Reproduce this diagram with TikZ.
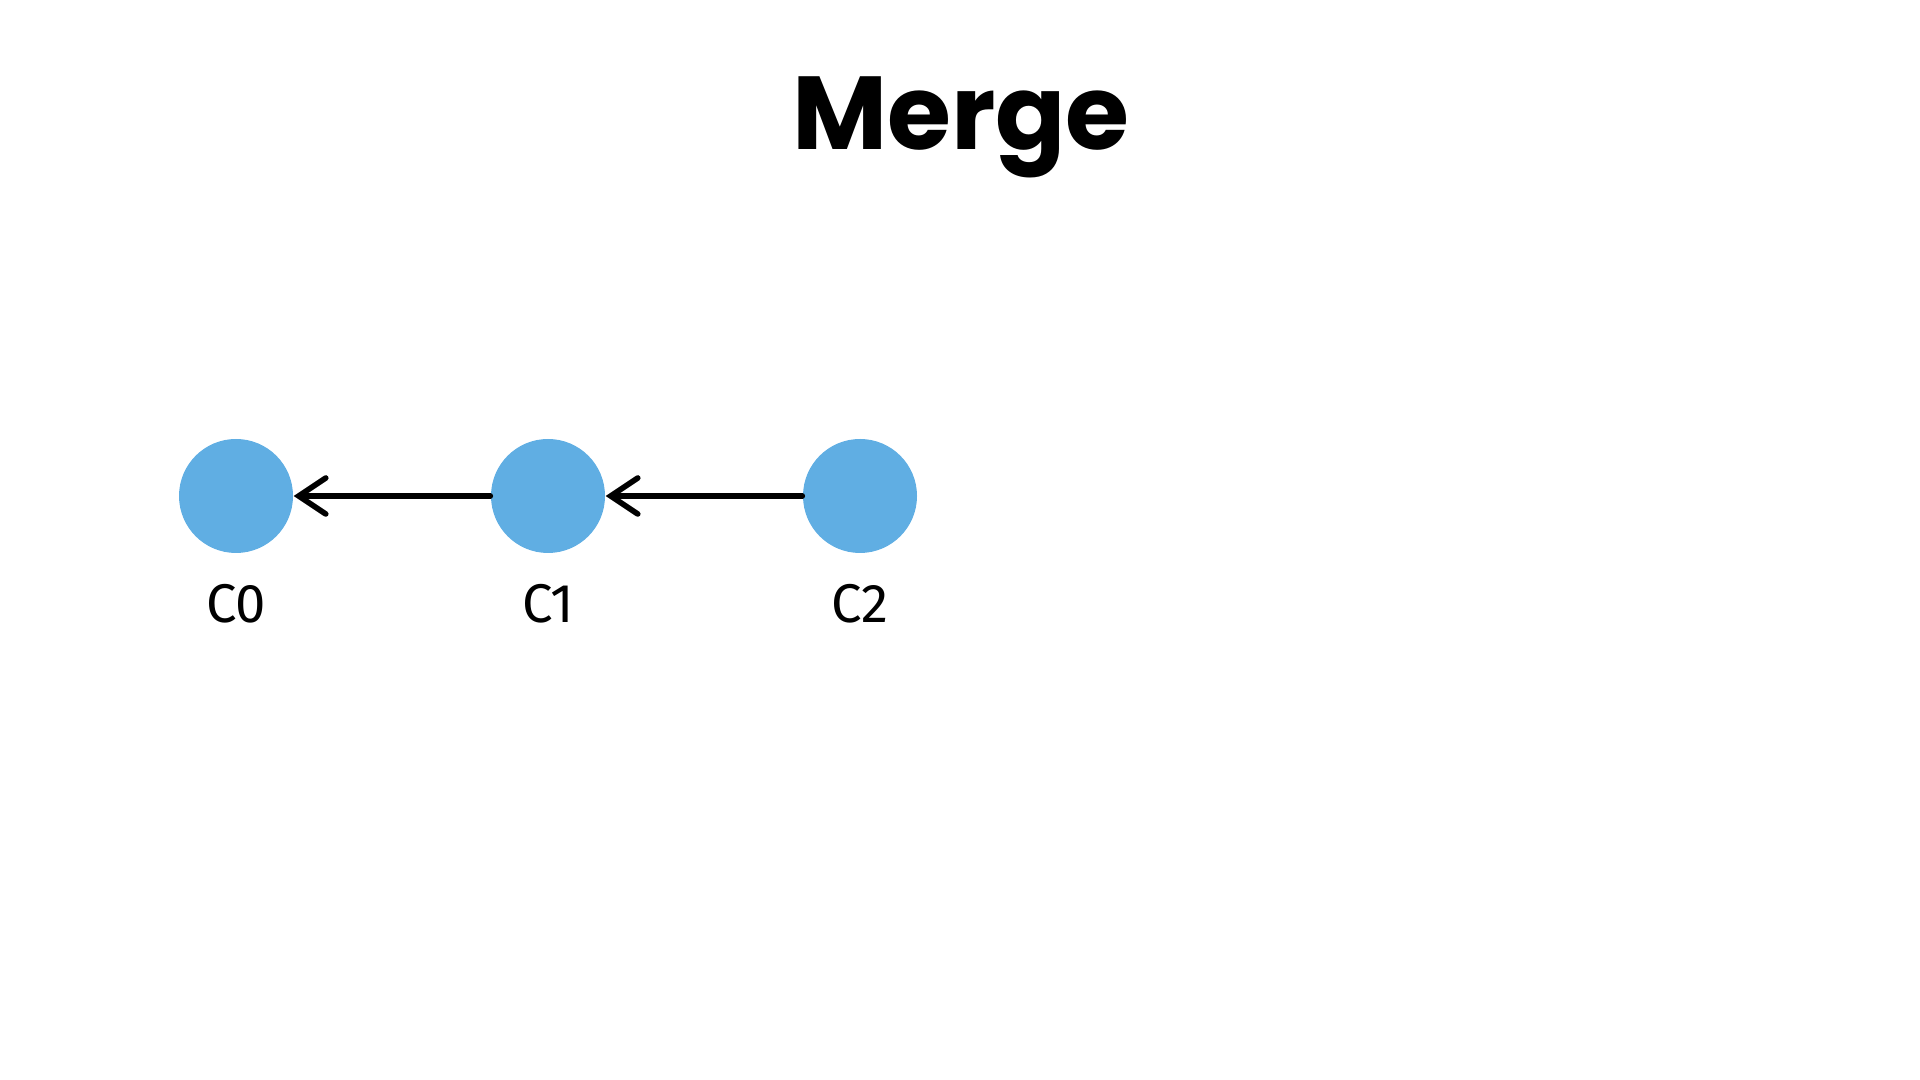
\documentclass[tikz,border=0pt]{standalone}
\usepackage{fontspec}
\setmainfont{Fira Sans}
\newfontfamily\titlefont{Poppins}
\usepackage{xcolor}
\usetikzlibrary{arrows.meta,positioning}
\definecolor{commitblue}{RGB}{96,174,227}

\begin{document}
\begin{tikzpicture}[shorten >=0pt,node distance=3.12cm,on grid,auto,
    commit/.style={circle,fill=commitblue,draw=none,minimum size=1.14cm,inner sep=0pt},
    tag/.style={font=\fontsize{15.5}{18}\selectfont},
    parent/.style={-{Straight Barb[length=0.27cm,width=0.36cm,line cap=round]},line width=1.6pt,line cap=round}]
   \useasboundingbox (0,0) rectangle (19.2,10.8);
   \node[anchor=base,font=\titlefont\bfseries\fontsize{29.5}{34}\selectfont] (title) at (9.61,9.30) {Merge};
   \node[commit] (c0) at (2.36,5.84) {};
   \node[commit] (c1) [right=of c0] {};
   \node[commit] (c2) [right=of c1] {};
   \node[tag] (c0lbl) [below=1.08cm of c0] {C0};
   \node[tag] (c1lbl) [below=1.08cm of c1] {C1};
   \node[tag] (c2lbl) [below=1.08cm of c2] {C2};
   \path[parent]
      (c1) edge (c0)
      (c2) edge (c1);
\end{tikzpicture}
\end{document}
